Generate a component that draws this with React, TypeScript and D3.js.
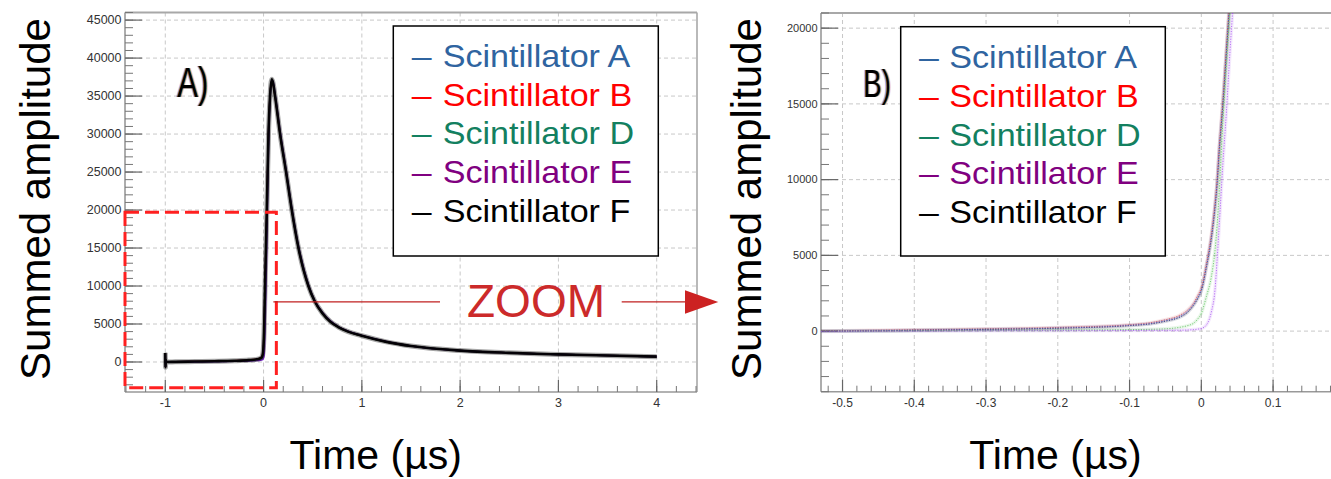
import React from 'react';
import * as d3 from 'd3';

// ---------- legend ----------
const legendLabels = ['Scintillator A', 'Scintillator B', 'Scintillator D', 'Scintillator E', 'Scintillator F'];
const legendColors = ['#2f64a0', '#ff0000', '#138060', '#800080', '#000000'];
const curveColorsA = ['#3040d0', '#e02020', '#30b030', '#8a2be2', '#000000'];
const curveColorsB = ['#3a4fd8', '#e04040', '#50c050', '#a347f2', '#303030'];

// ---------- panel A : full pulse ----------
const timeA = [-1.0, -0.998, -0.995, -0.99, -0.9, -0.7, -0.5, -0.3, -0.15, -0.07, -0.03, -0.015, -0.005, 0.005, 0.015, 0.033, 0.05, 0.066, 0.083, 0.095, 0.117, 0.168, 0.229, 0.287, 0.355, 0.456, 0.52, 0.6, 0.68, 0.76, 0.86, 1.0, 1.25, 1.5, 2.0, 2.5, 3.0, 3.5, 4.0];
const pulseA_A = [1100, -650, 300, 0, 20, 60, 100, 160, 250, 350, 500, 700, 1300, 4000, 10000, 20000, 30000, 35000, 37100, 36700, 35000, 30000, 25000, 20000, 15000, 10000, 8000, 6400, 5300, 4600, 4000, 3450, 2650, 2100, 1500, 1200, 1000, 850, 700];
const pulseA_B = [1150, -700, 320, 0, 30, 70, 110, 170, 260, 370, 520, 730, 1350, 4100, 10200, 20200, 30100, 35100, 37000, 36600, 34900, 30000, 25000, 20000, 15000, 10000, 8000, 6400, 5300, 4600, 4000, 3450, 2650, 2100, 1500, 1200, 1000, 850, 700];
const pulseA_D = [1000, -600, 250, 0, 10, 40, 70, 120, 180, 250, 330, 420, 700, 2000, 7000, 18000, 29000, 34800, 37000, 36800, 35100, 30100, 25100, 20100, 15100, 10100, 8000, 6400, 5300, 4600, 4000, 3450, 2650, 2100, 1500, 1200, 1000, 850, 700];
const pulseA_E = [1050, -650, 250, 0, 0, 20, 50, 90, 140, 200, 250, 300, 350, 900, 4500, 16000, 28000, 34500, 37000, 37000, 35300, 30400, 25300, 20300, 15300, 10200, 8100, 6500, 5400, 4650, 4050, 3500, 2700, 2100, 1500, 1200, 1000, 850, 700];
const pulseA_F = [1200, -700, 300, 0, 20, 60, 100, 160, 250, 350, 500, 700, 1300, 4000, 10000, 20000, 30000, 35000, 37200, 36800, 35000, 30000, 25000, 20000, 15000, 10000, 8000, 6400, 5300, 4600, 4000, 3450, 2650, 2100, 1500, 1200, 1000, 850, 700];

// ---------- panel B : zoom on the rising edge ----------
const timeB = [-0.53, -0.5, -0.45, -0.4, -0.3, -0.2, -0.1, -0.07, -0.05, -0.03, -0.02, -0.01, -0.005, 0.0, 0.007, 0.014, 0.019, 0.022, 0.025, 0.03, 0.035, 0.04, 0.045];
const riseB_A = [0, 10, 30, 60, 120, 200, 380, 500, 680, 950, 1250, 1800, 2200, 2700, 4250, 6200, 8200, 9800, 12000, 15000, 18500, 22000, 25500];
const riseB_B = [20, 30, 60, 90, 150, 240, 420, 560, 750, 1050, 1350, 1900, 2350, 2850, 4400, 6400, 8400, 10000, 12200, 15300, 18800, 22300, 25800];
const riseB_D = [0, 0, 10, 20, 50, 70, 100, 120, 150, 250, 350, 550, 800, 1170, 2270, 3600, 5300, 7000, 9300, 13800, 17600, 21300, 25000];
const riseB_E = [-20, -10, 0, 0, 20, 30, 40, 50, 50, 60, 70, 100, 130, 170, 400, 1270, 2700, 4700, 7000, 11000, 14500, 18500, 22000];
const riseB_F = [-10, 0, 20, 50, 110, 190, 360, 480, 650, 920, 1200, 1750, 2150, 2650, 4200, 6100, 8100, 9700, 11900, 14900, 18400, 21900, 25400];

// ---------- axis tick labels ----------
const xTicksA = [-1, 0, 1, 2, 3, 4];
const yTicksA = [0, 5000, 10000, 15000, 20000, 25000, 30000, 35000, 40000, 45000];
const xTicksB = [-0.5, -0.4, -0.3, -0.2, -0.1, 0, 0.1];
const yTicksB = [0, 5000, 10000, 15000, 20000];
const xTitle = 'Time (µs)';
const yTitle = 'Summed amplitude';

// zoom region (data coordinates in panel A)
const zoomRegion = { t0: -1.41, t1: 0.13, a0: -3400, a1: 19700, arrowAt: 7900 };

const W = 1331;
const H = 479;
const FONT = '"Liberation Sans", Arial, Helvetica, sans-serif';

const boxA = { left: 125, top: 12.5, right: 697, bottom: 392 };
const boxB = { left: 821, top: 13, right: 1380, bottom: 391.7 };

const xA = d3.scaleLinear().domain([-1.41, 4.41]).range([boxA.left, boxA.right]);
const yA = d3.scaleLinear().domain([-3950, 46000]).range([boxA.bottom, boxA.top]);
const xB = d3.scaleLinear().domain([-0.53, 0.249]).range([boxB.left, boxB.right]);
const yB = d3.scaleLinear().domain([-4000, 21000]).range([boxB.bottom, boxB.top]);

function Axes({ x, y, box, xTicks, yTicks, xMinorStep, yMinorStep, fontX, fontY, xFmt, clipRight }: any) {
  const [x0, x1] = x.domain();
  const [y0, y1] = y.domain();
  const xMinor = d3.range(Math.ceil(x0 / xMinorStep) * xMinorStep, x1 + 1e-9, xMinorStep);
  const yMinor = d3.range(Math.ceil(y0 / yMinorStep) * yMinorStep, y1 + 1e-9, yMinorStep);
  const right = Math.min(box.right, clipRight);
  return (
    <g>
      {xTicks.map((t: number) => (
        <line key={'gx' + t} x1={x(t)} x2={x(t)} y1={box.top} y2={box.bottom} stroke="#c8c8c8" strokeWidth={1} strokeDasharray="4 3" />
      ))}
      {yTicks.map((t: number) => (
        <line key={'gy' + t} x1={box.left} x2={right} y1={y(t)} y2={y(t)} stroke="#c8c8c8" strokeWidth={1} strokeDasharray="4 3" />
      ))}
      <line x1={box.left} x2={right} y1={box.top} y2={box.top} stroke="#a8a8a8" strokeWidth={2} />
      <line x1={box.left} x2={right} y1={box.bottom} y2={box.bottom} stroke="#999" strokeWidth={1.6} />
      <line x1={box.left} x2={box.left} y1={box.top} y2={box.bottom} stroke="#999" strokeWidth={1.6} />
      {box.right < clipRight && <line x1={box.right} x2={box.right} y1={box.top} y2={box.bottom} stroke="#a8a8a8" strokeWidth={1.6} />}
      {xMinor.map((t: number, i: number) => (
        <line key={'mx' + i} x1={x(t)} x2={x(t)} y1={box.bottom} y2={box.bottom - 6} stroke="#777" strokeWidth={1} />
      ))}
      {yMinor.map((t: number, i: number) => (
        <line key={'my' + i} x1={box.left} x2={box.left + 8} y1={y(t)} y2={y(t)} stroke="#777" strokeWidth={1} />
      ))}
      {xTicks.map((t: number) => (
        <g key={'tx' + t}>
          <line x1={x(t)} x2={x(t)} y1={box.bottom} y2={box.bottom - 12} stroke="#666" strokeWidth={1.2} />
          <text x={x(t)} y={box.bottom + 15} textAnchor="middle" fontFamily={FONT} fontSize={fontX} fill="#333">{xFmt(t)}</text>
        </g>
      ))}
      {yTicks.map((t: number) => (
        <g key={'ty' + t}>
          <line x1={box.left} x2={box.left + 17} y1={y(t)} y2={y(t)} stroke="#666" strokeWidth={1.2} />
          <text x={box.left - 3.5} y={y(t)} dy="0.35em" textAnchor="end" fontFamily={FONT} fontSize={fontY} fill="#333">{String(t)}</text>
        </g>
      ))}
    </g>
  );
}

function Legend({ x, y, w, h, dashX, textX, base }: any) {
  return (
    <g>
      <rect x={x} y={y} width={w} height={h} fill="#fff" stroke="#000" strokeWidth={1.5} />
      {legendLabels.map((l, i) => (
        <g key={l}>
          <text transform={`translate(${dashX},${base + i * 38.8}) scale(1.15,1)`} fontFamily={FONT} fontSize={31} fill={legendColors[i]}>–</text>
          <text transform={`translate(${textX},${base + i * 38.8}) scale(1.1,1)`} fontFamily={FONT} fontSize={31} fill={legendColors[i]}>{l}</text>
        </g>
      ))}
    </g>
  );
}

export default function App() {
  const lineA = (vals: number[]) =>
    d3.line<number>().x((_, i) => xA(timeA[i])).y((d) => yA(d)).curve(d3.curveMonotoneX)(vals) || '';
  const lineB = (vals: number[]) =>
    d3.line<number>().x((_, i) => xB(timeB[i])).y((d) => yB(d)).curve(d3.curveMonotoneX)(vals) || '';

  const seriesA = [pulseA_A, pulseA_B, pulseA_D, pulseA_E];
  const seriesB = [riseB_F, riseB_B, riseB_A, riseB_D, riseB_E];
  const seriesBColors = [curveColorsB[4], curveColorsB[1], curveColorsB[0], curveColorsB[2], curveColorsB[3]];

  const zx1 = xA(zoomRegion.t1);
  const zy0 = yA(zoomRegion.a1);
  const zy1 = yA(zoomRegion.a0);
  const zx0 = xA(zoomRegion.t0);
  const arrowY = yA(zoomRegion.arrowAt);

  return (
    <svg width={W} height={H} style={{ position: 'absolute', left: 0, top: 0, display: 'block', background: '#fff' }}>
      <defs>
        <clipPath id="clipB">
          <rect x={boxB.left} y={boxB.top} width={W - boxB.left} height={boxB.bottom - boxB.top} />
        </clipPath>
      </defs>
      <rect x={0} y={0} width={W} height={H} fill="#fff" />

      {/* ---------- Panel A ---------- */}
      <Axes x={xA} y={yA} box={boxA} xTicks={xTicksA} yTicks={yTicksA} xMinorStep={0.2} yMinorStep={1000}
        fontX={12.5} fontY={12.5} xFmt={(t: number) => (t < 0 ? '-' + Math.abs(t) : String(t))} clipRight={W} />
      {seriesA.map((s, i) => (
        <path key={'a' + i} d={lineA(s)} fill="none" stroke={curveColorsA[i]} strokeWidth={1.6} strokeLinejoin="round" />
      ))}
      <path d={lineA(pulseA_F)} fill="none" stroke="#000" strokeWidth={5} strokeLinejoin="round" opacity={0.35} />
      <path d={lineA(pulseA_F)} fill="none" stroke="#000" strokeWidth={2.6} strokeLinejoin="round" opacity={0.95} />

      <Legend x={393.3} y={26} w={265} h={230} dashX={411.7} textX={442.7} base={66.7} />

      <g fontFamily={FONT} fontSize={42}>
        <text x={176} y={96.7} fill="#2050c0" opacity={0.5} textLength={31} lengthAdjust="spacingAndGlyphs">A)</text>
        <text x={178.6} y={96.7} fill="#e08010" opacity={0.6} textLength={31} lengthAdjust="spacingAndGlyphs">A)</text>
        <text x={177.3} y={96.7} fill="#000" textLength={31} lengthAdjust="spacingAndGlyphs">A)</text>
      </g>

      <rect x={zx0} y={zy0} width={zx1 - zx0} height={zy1 - zy0} fill="none" stroke="#ff2020" strokeWidth={3} strokeDasharray="14 6" />
      <line x1={zx1 - 3} x2={440} y1={arrowY} y2={arrowY} stroke="#c02020" strokeWidth={1.2} />
      <text x={536} y={317} textAnchor="middle" fontFamily={FONT} fontSize={46} fill="#cc2a2a">ZOOM</text>
      <line x1={621.7} x2={686} y1={arrowY} y2={arrowY} stroke="#c02020" strokeWidth={1.2} />
      <path d={`M685,${arrowY - 11.7} L718.3,${arrowY} L685,${arrowY + 11.7} Z`} fill="#cc2222" />

      <text transform={`translate(50,199) rotate(-90)`} textAnchor="middle" fontFamily={FONT} fontSize={42} fill="#000">{yTitle}</text>
      <text x={375.8} y={469.3} textAnchor="middle" fontFamily={FONT} fontSize={41} fill="#000">{xTitle}</text>

      {/* ---------- Panel B ---------- */}
      <Axes x={xB} y={yB} box={boxB} xTicks={xTicksB} yTicks={yTicksB} xMinorStep={0.02} yMinorStep={1000}
        fontX={12} fontY={11} xFmt={(t: number) => (t < 0 ? '-' + Math.abs(t) : String(t))} clipRight={W} />
      <g clipPath="url(#clipB)">
        {seriesB.map((s, i) => (
          <path key={'bw' + i} d={lineB(s)} fill="none" stroke={seriesBColors[i]} strokeWidth={3.5} opacity={0.12} />
        ))}
        {seriesB.map((s, i) => (
          <path key={'bt' + i} d={lineB(s)} fill="none" stroke={seriesBColors[i]} strokeWidth={1} strokeDasharray="1.2 1.4" opacity={0.75} />
        ))}
      </g>

      <Legend x={900.7} y={26.7} w={264.6} h={229.3} dashX={919} textX={949.3} base={68} />

      <g fontFamily={FONT} fontSize={38}>
        <text x={862} y={97.3} fill="#2050c0" opacity={0.5} textLength={27.5} lengthAdjust="spacingAndGlyphs">B)</text>
        <text x={864.6} y={97.3} fill="#e08010" opacity={0.6} textLength={27.5} lengthAdjust="spacingAndGlyphs">B)</text>
        <text x={863.3} y={97.3} fill="#000" textLength={27.5} lengthAdjust="spacingAndGlyphs">B)</text>
      </g>

      <text transform={`translate(761,199) rotate(-90)`} textAnchor="middle" fontFamily={FONT} fontSize={42} fill="#000">{yTitle}</text>
      <text x={1055.5} y={469.3} textAnchor="middle" fontFamily={FONT} fontSize={41} fill="#000">{xTitle}</text>
    </svg>
  );
}
